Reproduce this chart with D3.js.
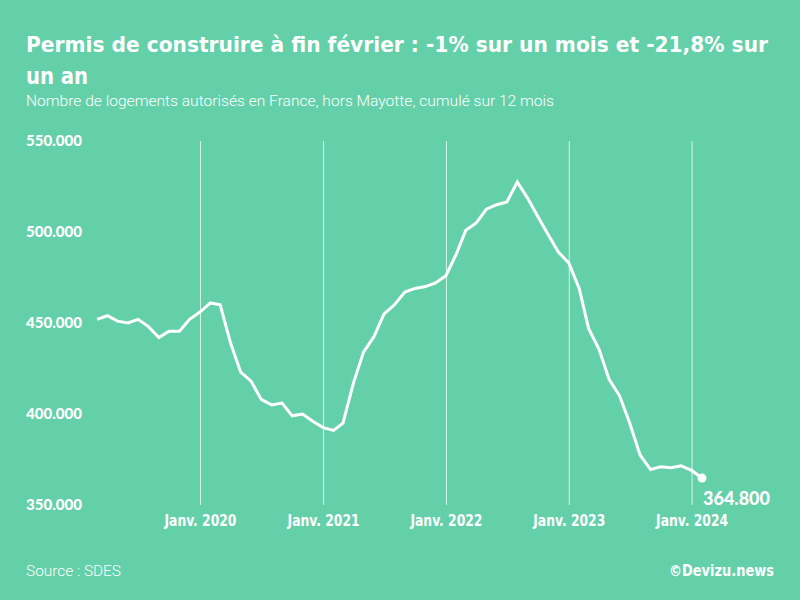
<!DOCTYPE html>
<html>
<head>
<meta charset="utf-8">
<script src="https://cdn.jsdelivr.net/npm/d3@7"></script>
<style>
  body { margin: 0; background: #64d0aa; }
  svg { display: block; }
  .cond { font-family: "Liberation Sans Narrow", "DejaVu Sans Condensed", "Roboto Condensed", sans-serif; font-weight: bold; }
</style>
</head>
<body>
<div class="container" style="width:800px;height:600px"></div>
<script>
// mois : mars 2019 -> février 2024
const startMonth = [2019, 2];
const values = [
  452, 454, 451, 450, 452, 448, 442, 445.5, 445.5, 452,       // mars-déc 2019
  456, 461, 460, 439, 423, 418, 408, 405, 406, 399, 400, 396, // 2020
  392.5, 391, 395, 417, 434, 442.5, 455, 460, 467, 469, 470, 472, // 2021
  476, 488, 501, 505, 512.5, 515, 516.5, 527.5, 518.5, 508.5, 498.5, 489, // 2022
  483, 469, 447, 435.5, 419, 410, 395, 377.5, 369.5, 371, 370.5, 371.5, // 2023
  369, 364.8 // 2024
].map(v => v * 1000);
const yTicks = [350000, 400000, 450000, 500000, 550000];
const xTickYears = [2020, 2021, 2022, 2023, 2024];
const lastLabel = "364.800";

const data = values.map((v, i) => ({ date: new Date(startMonth[0], startMonth[1] + i, 1), value: v }));

const container = d3.select(".container");
const svg = container.append("svg")
    .attr("width", 800)
    .attr("height", 600);

svg.append("rect").attr("width", 800).attr("height", 600).attr("fill", "#64d0aa");

const fr = d3.formatLocale({ decimal: ",", thousands: ".", grouping: [3], currency: ["", " €"] });

const x = d3.scaleTime()
    .domain([data[0].date, data[data.length - 1].date])
    .range([97, 702]);
const y = d3.scaleLinear()
    .domain([350000, 550000])
    .range([505, 141]);

// resserre un texte à la largeur voulue (police condensée absente)
function fit(sel, w) {
    sel.attr("textLength", w).attr("lengthAdjust", "spacingAndGlyphs");
}

// titres
svg.append("text")
    .attr("class", "cond")
    .attr("x", 26).attr("y", 52)
    .attr("fill", "#fff")
    .attr("font-size", 22)
    .text("Permis de construire à fin février : -1% sur un mois et -21,8% sur")
    .call(fit, 742);
svg.append("text")
    .attr("class", "cond")
    .attr("x", 26).attr("y", 84)
    .attr("fill", "#fff")
    .attr("font-size", 23)
    .text("un an")
    .call(fit, 62);

svg.append("text")
    .attr("x", 26).attr("y", 106)
    .attr("fill", "#fff")
    .attr("font-family", "Roboto, sans-serif")
    .attr("font-weight", 300)
    .attr("font-size", 15)
    .text("Nombre de logements autorisés en France, hors Mayotte, cumulé sur 12 mois")
    .call(fit, 528);

// grille verticale + étiquettes x
const xAxis = svg.append("g")
    .attr("transform", "translate(0,505)")
    .call(d3.axisBottom(x)
        .tickValues(xTickYears.map(yr => new Date(yr, 0, 1)))
        .tickSize(-(505 - 141))
        .tickPadding(10)
        .tickFormat(d => "Janv. " + d.getFullYear()));
xAxis.select(".domain").remove();
xAxis.selectAll("line").attr("stroke", "#fff").attr("stroke-opacity", 0.75);
xAxis.selectAll("text")
    .attr("class", "cond")
    .attr("fill", "#fff")
    .attr("font-size", 16)
    .call(fit, 72);

// étiquettes y
const yAxis = svg.append("g")
    .attr("transform", "translate(26,0)")
    .call(d3.axisRight(y)
        .tickValues(yTicks)
        .tickSize(0)
        .tickPadding(0)
        .tickFormat(fr.format(",")));
yAxis.select(".domain").remove();
yAxis.selectAll("text")
    .attr("fill", "#fff")
    .attr("font-family", "Lato, sans-serif")
    .attr("font-weight", 900)
    .attr("font-size", 15)
    .call(fit, 56);

// courbe
const line = d3.line()
    .x(d => x(d.date))
    .y(d => y(d.value));

svg.append("path")
    .datum(data)
    .attr("fill", "none")
    .attr("stroke", "#fff")
    .attr("stroke-width", 3)
    .attr("d", line);

const last = data[data.length - 1];
svg.append("circle")
    .attr("cx", x(last.date))
    .attr("cy", y(last.value))
    .attr("r", 4.5)
    .attr("fill", "#fff");

svg.append("text")
    .attr("x", x(last.date) + 1)
    .attr("y", y(last.value) + 27)
    .attr("fill", "#fff")
    .attr("font-family", "Lato, sans-serif")
    .attr("font-weight", 900)
    .attr("font-size", 18)
    .text(lastLabel)
    .call(fit, 67);

// pied
svg.append("text")
    .attr("x", 26).attr("y", 576)
    .attr("fill", "#fff")
    .attr("font-family", "Roboto, sans-serif")
    .attr("font-weight", 300)
    .attr("font-size", 15)
    .text("Source : SDES")
    .call(fit, 95);

svg.append("text")
    .attr("class", "cond")
    .attr("x", 774).attr("y", 576)
    .attr("text-anchor", "end")
    .attr("fill", "#fff")
    .attr("font-size", 16)
    .text("©Devizu.news")
    .call(fit, 105);
</script>
</body>
</html>
